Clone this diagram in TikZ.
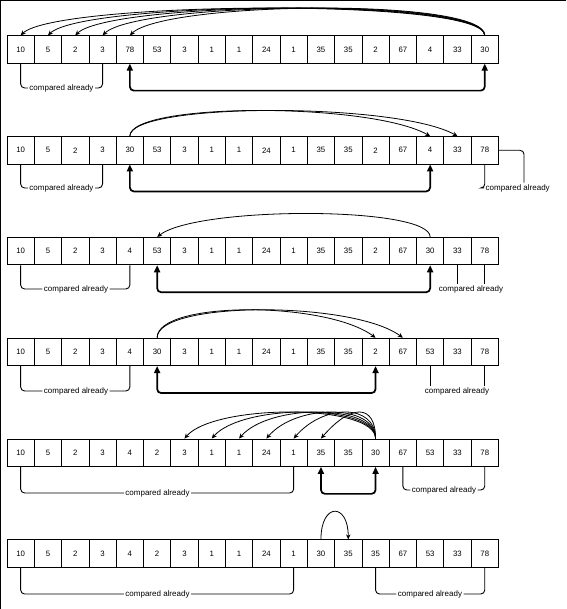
\documentclass[tikz,border=0pt]{standalone}
\usepackage{fontspec}
\setmainfont{Liberation Sans}
\usetikzlibrary{arrows.meta,positioning}

\begin{document}
\begin{tikzpicture}[x=1pt,y=-1pt]
%\draw[very thin, color = gray](0, 0) grid (566, 609);
\tikzstyle{cell} = [draw, rectangle, minimum width = 27.3pt, minimum height = 27.5pt,
  inner sep = 0pt, line width = 0.8pt, font = \fontsize{7.8}{8}\selectfont];
\tikzstyle{swap} = [draw, line width = 1.7pt, rounded corners = 4pt,
  {Triangle[length=7pt,width=6pt]}-{Triangle[length=7pt,width=6pt]}]
\tikzstyle{jump} = [draw, line width = 0.8pt, -{Stealth[length=5pt,width=4.5pt]}]
\tikzstyle{done} = [draw, line width = 0.9pt, rounded corners = 4pt]
\tikzstyle{note} = [fill = white, inner sep = 1.5pt, font = \fontsize{8}{8}\selectfont]
\useasboundingbox (0, 0) rectangle (566, 609);
\draw[line width = 1pt] (0.5, 609) -- (0.5, 0.5) -- (566, 0.5);
% the six states of the list
\foreach \row [count = \r] in {{10,5,2,3,78,53,3,1,1,24,1,35,35,2,67,4,33,30},
  {10,5,2,3,30,53,3,1,1,24,1,35,35,2,67,4,33,78},
  {10,5,2,3,4,53,3,1,1,24,1,35,35,2,67,30,33,78},
  {10,5,2,3,4,30,3,1,1,24,1,35,35,2,67,53,33,78},
  {10,5,2,3,4,2,3,1,1,24,1,35,35,30,67,53,33,78},
  {10,5,2,3,4,2,3,1,1,24,1,30,35,35,67,53,33,78}}
  \foreach \v [count = \c from 0] in \row
    \node [cell] at ({7 + 27.3*(\c + 0.5)}, {49.5 + 100.8*(\r - 1)}) (r\r-\c) {\v};
% row 1
\foreach \t in {0, 1, 2, 3, 4}
  \path [jump] (r1-17.north) .. controls +(0, -38) and +(35, -34) .. (r1-\t.north);
\path [swap] (r1-17.south) -- ++(0, 27) -| (r1-4.south);
\node [note] at (61.5, 88) (n1a) {compared already};
\path [done] (r1-0.south) |- (n1a.west);
\path [done] (r1-3.south) |- (n1a.east);
% row 2
\foreach \t in {15, 16}
  \path [jump] (r2-4.north) .. controls +(0, -34) and +(-60, -34) .. (r2-\t.north);
\path [swap] (r2-4.south) -- ++(0, 27) -| (r2-15.south);
\node [note] at (61.5, 188) (n2a) {compared already};
\path [done] (r2-0.south) |- (n2a.west);
\path [done] (r2-3.south) |- (n2a.east);
\node [note, anchor = west] at (484, 188) (n2b) {compared already};
\path [done] (r2-17.south) |- (n2b.west);
\path [done] (r2-17.east) -| (n2b.north -| 524, 0);
% row 3
\path [jump] (r3-15.north) .. controls +(0, -31) and +(40, -31) .. (r3-5.north);
\path [swap] (r3-5.south) -- ++(0, 27) -| (r3-15.south);
\node [note] at (76, 289) (n3a) {compared already};
\path [done] (r3-0.south) |- (n3a.west);
\path [done] (r3-4.south) |- (n3a.east);
\node [note] at (471, 289) (n3b) {compared already};
\path [done] (r3-16.south) -- (r3-16.south |- n3b.north);
\path [done] (r3-17.south) -- (r3-17.south |- n3b.north);
% row 4
\foreach \t in {13, 14}
  \path [jump] (r4-5.north) .. controls +(0, -37) and +(-50, -37) .. (r4-\t.north);
\path [swap] (r4-5.south) -- ++(0, 27) -| (r4-13.south);
\node [note] at (76, 391) (n4a) {compared already};
\path [done] (r4-0.south) |- (n4a.west);
\path [done] (r4-4.south) |- (n4a.east);
\node [note] at (457, 391) (n4b) {compared already};
\path [done] (r4-15.south) -- (r4-15.south |- n4b.north);
\path [done] (r4-17.south) -- (r4-17.south |- n4b.north);
% row 5
\foreach \t in {6, 7, 8, 9, 10, 11}
  \path [jump] (r5-13.north) .. controls +(0, -35) and +(30, -35) .. (r5-\t.north);
\path [swap] (r5-11.south) -- ++(0, 27) -| (r5-13.south);
\node [note] at (157.5, 493) (n5a) {compared already};
\path [done] (r5-0.south) |- (n5a.west);
\path [done] (r5-10.south) |- (n5a.east);
\node [note] at (444, 490) (n5b) {compared already};
\path [done] (r5-14.south) |- (n5b.west);
\path [done] (r5-17.south) |- (n5b.east);
% row 6
\path [jump] (r6-11.north) .. controls +(0, -37) and +(0, -37) .. (r6-12.north);
\node [note] at (157.5, 594) (n6a) {compared already};
\path [done] (r6-0.south) |- (n6a.west);
\path [done] (r6-10.south) |- (n6a.east);
\node [note] at (430, 594) (n6b) {compared already};
\path [done] (r6-13.south) |- (n6b.west);
\path [done] (r6-17.south) |- (n6b.east);
\end{tikzpicture}
\end{document}
